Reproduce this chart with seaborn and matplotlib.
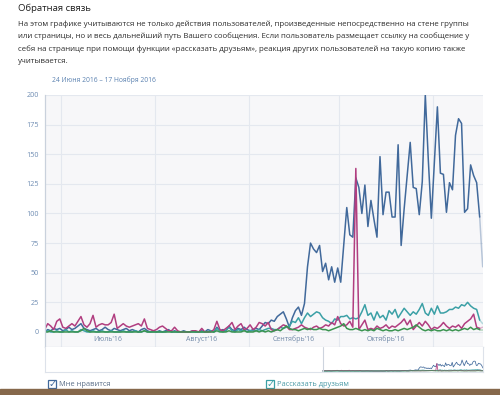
import pandas as pd
import matplotlib
matplotlib.use("Agg")
import matplotlib.pyplot as plt
import matplotlib.dates as mdates
from matplotlib.patches import Rectangle
import seaborn as sns

# daily values, 24.06.2016 - 17.11.2016
likes = [1, 0, 2, 1, 3, 2, 3, 1, 2, 4,
         2, 3, 5, 7, 3, 2, 1, 2, 3, 1,
         2, 4, 2, 1, 3, 2, 1, 2, 3, 1,
         2, 1, 0, 2, 3, 1, 0, 1, 0, 1,
         0, 1, 2, 0, 1, 0, 0, 1, 0, 0,
         1, 0, 0, 1, 0, 2, 1, 0, 4, 1,
         2, 1, 5, 2, 1, 3, 2, 4, 2, 1,
         2, 3, 2, 5, 8, 7, 10, 9, 13, 15,
         17, 11, 4, 12, 18, 21, 14, 24, 55, 75,
         70, 67, 73, 51, 58, 44, 55, 42, 54, 42,
         73, 105, 82, 80, 130, 122, 100, 124, 89, 111,
         95, 80, 148, 99, 118, 118, 97, 97, 158, 73,
         104, 132, 160, 122, 121, 99, 127, 200, 145, 96,
         143, 190, 134, 133, 101, 126, 120, 166, 180, 176,
         101, 104, 141, 132, 126, 97, 55]

reposts = [0, 0, 1, 0, 0, 1, 0, 0, 2, 0,
           1, 0, 0, 2, 1, 0, 0, 1, 0, 0,
           1, 0, 0, 1, 0, 0, 0, 1, 0, 0,
           0, 1, 0, 0, 1, 0, 0, 0, 0, 0,
           0, 0, 1, 0, 0, 0, 0, 0, 0, 0,
           0, 0, 0, 0, 0, 0, 1, 0, 3, 1,
           0, 1, 4, 1, 0, 2, 1, 2, 0, 1,
           1, 1, 2, 1, 2, 3, 3, 2, 2, 4,
           3, 4, 5, 9, 8, 12, 7, 12, 16, 13,
           15, 17, 16, 12, 10, 9, 7, 11, 10, 13,
           13, 14, 11, 12, 11, 12, 17, 23, 14, 16,
           10, 17, 12, 14, 10, 18, 15, 19, 12, 16,
           20, 17, 14, 17, 15, 19, 24, 16, 14, 20,
           15, 22, 16, 16, 17, 19, 19, 21, 20, 23,
           22, 25, 22, 20, 19, 10, 7]

comments = [3, 2, 7, 5, 2, 9, 11, 4, 3, 5,
            7, 5, 9, 13, 6, 4, 7, 14, 4, 6,
            7, 6, 6, 8, 15, 3, 5, 7, 5, 4,
            5, 6, 7, 5, 11, 3, 2, 1, 2, 4,
            5, 3, 1, 1, 4, 1, 0, 0, 0, 0,
            1, 1, 0, 3, 0, 0, 0, 2, 9, 2,
            1, 3, 5, 8, 2, 5, 7, 2, 3, 6,
            2, 4, 8, 7, 5, 8, 2, 1, 2, 4,
            6, 5, 2, 2, 3, 4, 6, 4, 3, 2,
            4, 5, 3, 4, 6, 5, 8, 6, 13, 7,
            5, 6, 9, 4, 138, 2, 6, 10, 2, 3,
            2, 5, 3, 4, 6, 3, 5, 4, 6, 8,
            11, 6, 10, 2, 5, 8, 5, 9, 6, 2,
            4, 3, 5, 8, 5, 3, 5, 4, 6, 3,
            7, 9, 11, 15, 4, 3, 4]

hidden = [0, 0, 0, 1, 0, 0, 0, 0, 0, 0,
          0, 0, 0, 1, 3, 1, 0, 0, 0, 0,
          0, 0, 0, 0, 0, 0, 0, 0, 0, 0,
          0, 0, 0, 0, 1, 0, 0, 0, 0, 0,
          0, 0, 0, 0, 0, 0, 0, 0, 0, 0,
          0, 0, 0, 0, 0, 0, 0, 0, 1, 0,
          0, 0, 1, 0, 0, 0, 0, 1, 0, 0,
          0, 1, 0, 1, 0, 1, 0, 1, 2, 1,
          3, 5, 3, 2, 2, 1, 2, 3, 2, 3,
          2, 2, 3, 2, 2, 1, 2, 3, 4, 5,
          7, 3, 2, 2, 3, 2, 1, 2, 1, 2,
          1, 3, 2, 1, 2, 1, 1, 2, 1, 2,
          3, 2, 3, 4, 6, 4, 2, 1, 2, 1,
          2, 1, 1, 2, 1, 2, 1, 2, 1, 2,
          3, 2, 4, 2, 3, 2, 2]

series_names = ["Мне нравится", "Рассказать друзьям", "Комментарии", "Скрыли из новостей"]
series_colors = ["#41699b", "#3ba0a6", "#b13e80", "#3b9450"]
month_labels = ["Июль'16", "Август'16", "Сентябрь'16", "Октябрь'16"]
y_ticks = [0, 25, 50, 75, 100, 125, 150, 175, 200]

title = "Обратная связь"
description = [
    "На этом графике учитываются не только действия пользователей, произведенные непосредственно на стене группы",
    "или страницы, но и весь дальнейший путь Вашего сообщения. Если пользователь размещает ссылку на сообщение у",
    "себя на странице при помощи функции «рассказать друзьям», реакция других пользователей на такую копию также",
    "учитывается.",
]
period = "24 Июня 2016 – 17 Ноября 2016"

dates = pd.date_range("2016-06-24 12:00", periods=len(likes), freq="D")
frames = []
for name, vals in zip(series_names, [likes, reposts, comments, hidden]):
    frames.append(pd.DataFrame({"date": dates, "value": vals, "series": name}))
df = pd.concat(frames, ignore_index=True)
palette = dict(zip(series_names, series_colors))

sns.set_style("white")
plt.rcParams["font.family"] = ["Open Sans", "DejaVu Sans"]

W, H = 500, 395
fig = plt.figure(figsize=(W / 100, H / 100), dpi=100)
fig.patch.set_facecolor("white")


def fx(x):
    return x / W


def fy(y):
    return 1 - y / H


# header texts
fig.text(fx(18), fy(8), title, fontsize=6.8, color="#1e1e1e", va="center", ha="left", fontweight="medium")
for i, line in enumerate(description):
    fig.text(fx(18), fy(24.3 + i * 12.3), line, fontsize=5.7, color="#2e2e2e", va="center", ha="left")
fig.text(fx(52), fy(80), period, fontsize=4.9, color="#5a81b0", va="center", ha="left")

# main chart
ax = fig.add_axes([fx(45), fy(347), fx(483) - fx(45), fy(95) - fy(347)])
ax.set_facecolor("#f7f7f9")
last = df["date"] == dates[-1]
prev = df["date"] >= dates[-2]
sns.lineplot(data=df[~last], x="date", y="value", hue="series", hue_order=series_names,
             palette=palette, linewidth=1.1, legend=False, ax=ax)
sns.lineplot(data=df[prev], x="date", y="value", hue="series", hue_order=series_names,
             palette=palette, linewidth=1.1, alpha=0.35, legend=False, ax=ax)

x_left = dates[0] + pd.Timedelta(days=1.1)
x_right = dates[0] + pd.Timedelta(days=146.1)
ax.set_xlim(x_left, x_right)
ax.set_ylim(-12.7, 200)
ax.set_yticks(y_ticks)
ax.xaxis.set_major_locator(mdates.MonthLocator())
ax.grid(True, color="#e4e8ef", linewidth=0.8)
ax.set_axisbelow(True)
ax.tick_params(axis="x", length=0, labelbottom=False)
ax.tick_params(axis="y", labelsize=5.2, labelcolor="#6f8db3", color="#c9d1dc",
               length=2.5, width=0.8, pad=2)
ax.set_xlabel("")
ax.set_ylabel("")
for side in ["top", "right"]:
    ax.spines[side].set_visible(False)
ax.spines["left"].set_color("#c9d1dc")
ax.spines["bottom"].set_color("#d6dce5")
ax.spines["left"].set_linewidth(0.9)
ax.spines["bottom"].set_linewidth(0.9)

month_starts = pd.date_range("2016-07-01", "2016-11-01", freq="MS")
for lbl, a, b in zip(month_labels, month_starts[:-1], month_starts[1:]):
    ax.text(a + (b - a) / 2, -6.4, lbl, fontsize=5.0, color="#7189a8", ha="center", va="center")

# navigator
nav = fig.add_axes([fx(45), fy(372), fx(483) - fx(45), fy(347) - fy(372)])
nav.set_facecolor("white")
sns.lineplot(data=df, x="date", y="value", hue="series", hue_order=series_names,
             palette=palette, linewidth=0.55, legend=False, ax=nav)
nav.set_xlim(x_right - pd.Timedelta(days=399.6), x_right)
nav.set_ylim(-18, 436)
nav.axvline(dates[0], color="#cdd4de", linewidth=0.8)
nav.set_xticks([])
nav.set_yticks([])
nav.set_xlabel("")
nav.set_ylabel("")
for side in ["left", "right", "bottom"]:
    nav.spines[side].set_color("#dde2ea")
    nav.spines[side].set_linewidth(0.8)
nav.spines["top"].set_visible(False)

# checkboxes under the chart
for name, color, txt_color, bx in [(series_names[0], series_colors[0], "#5b6f88", 48),
                                    (series_names[1], series_colors[1], "#4a9aa6", 266)]:
    fig.add_artist(Rectangle((fx(bx), fy(388)), fx(8), 8 / H, transform=fig.transFigure,
                             fill=False, edgecolor=color, linewidth=0.9))
    fig.text(fx(bx + 4.3), fy(383.6), "✓", fontsize=7, color=color, ha="center", va="center",
             family="DejaVu Sans")
    fig.text(fx(bx + 11), fy(384), name, fontsize=5.4, color=txt_color, ha="left", va="center")

# strip of page background at the very bottom
fig.add_artist(Rectangle((0, 0), 1, 6 / H, transform=fig.transFigure, color="#86684b"))

fig.savefig("out.png", dpi=100)
